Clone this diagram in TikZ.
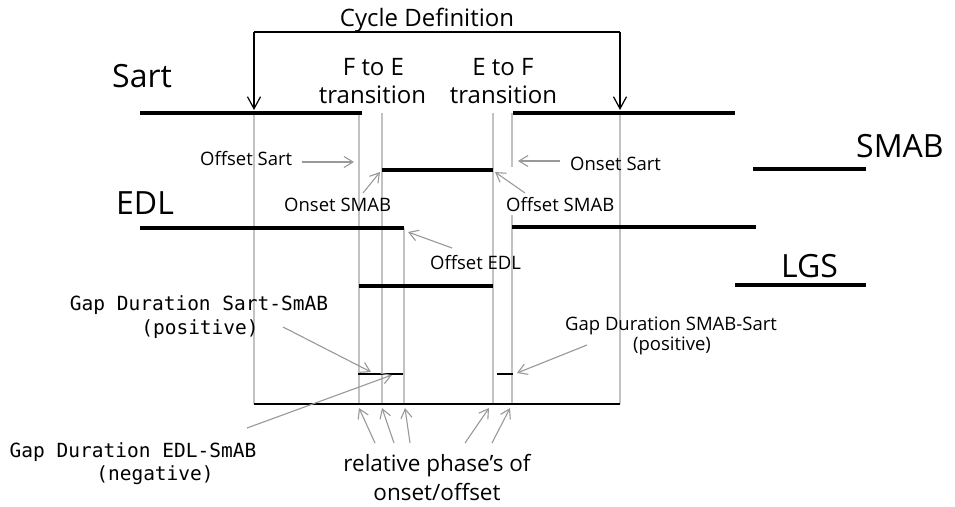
\documentclass[tikz,border=0pt]{standalone}
\usepackage{fontspec}
\setmainfont{Open Sans}
\newfontfamily\monof{DejaVu Sans Mono}
\usetikzlibrary{arrows.meta}
\definecolor{vline}{gray}{0.76}
\definecolor{garr}{gray}{0.6}
\tikzset{
  bar/.style={draw=black, line width=4pt},
  thinbar/.style={draw=black, line width=1.8pt},
  vl/.style={draw=vline, line width=1.1pt},
  ga/.style={draw=garr, line width=1.1pt, -{Straight Barb[length=9pt,width=11pt]}},
  ba/.style={draw=black, line width=1.2pt},
  bigl/.style={font=\fontsize{32}{38}\selectfont, inner sep=0pt, anchor=base west},
  midl/.style={font=\fontsize{24}{29}\selectfont, inner sep=0pt, anchor=base},
  smalll/.style={font=\fontsize{18.5}{22}\selectfont, inner sep=0pt, anchor=base west},
  smallc/.style={font=\fontsize{18.5}{22}\selectfont, inner sep=0pt, anchor=base},
  phasel/.style={font=\fontsize{22.5}{27}\selectfont, inner sep=0pt, anchor=base},
  monol/.style={font=\monof\fontsize{19.5}{24}\selectfont, inner sep=0pt, anchor=base},
}
\begin{document}
\begin{tikzpicture}[x=1pt,y=-1pt]
\useasboundingbox[fill=white] (0,0) rectangle (955,506);

% ---- coordinates
\coordinate (s1a) at (140,113); \coordinate (s1b) at (362,113);
\coordinate (s2a) at (513,113); \coordinate (s2b) at (735,113);
\coordinate (m1a) at (382,170); \coordinate (m1b) at (493,170);
\coordinate (m2a) at (753,169); \coordinate (m2b) at (866,169);
\coordinate (e1a) at (140,228); \coordinate (e1b) at (404,228);
\coordinate (e2a) at (512,227); \coordinate (e2b) at (756,227);
\coordinate (l1a) at (359,286); \coordinate (l1b) at (493,286);
\coordinate (l2a) at (735,285); \coordinate (l2b) at (866,285);

% vertical gray lines
\foreach \x/\t in {254/113, 359/113, 382/113, 404/228, 493/113, 620/113}
  \draw[vl] (\x,\t) -- (\x,404);
\draw[vl] (512,113) -- (512,167);
\draw[vl] (512,215) -- (512,404);

% bars
\draw[bar] (s1a) -- (s1b);
\draw[bar] (s2a) -- (s2b);
\draw[bar] (m1a) -- (m1b);
\draw[bar] (m2a) -- (m2b);
\draw[bar] (e1a) -- (e1b);
\draw[bar] (e2a) -- (e2b);
\draw[bar] (l1a) -- (l1b);
\draw[bar] (l2a) -- (l2b);

% bottom line and gap bars
\coordinate (bl) at (254,404); \coordinate (br) at (620,404);
\draw[draw=black, line width=1.6pt] (bl) -- (br);
\coordinate (g1a) at (358,374); \coordinate (g1b) at (403,374);
\coordinate (g2a) at (497,374); \coordinate (g2b) at (513,374);
\draw[thinbar] (g1a) -- (g1b);
\draw[thinbar] (g2a) -- (g2b);

% cycle bracket
\node[midl] (cycle) at (427,27) {Cycle Definition};
\coordinate (cbl) at (254,32); \coordinate (cbr) at (620,32);
\coordinate (cal) at (254,110); \coordinate (car) at (620,110);
\draw[ba] (cbl) -- (cbr);
\draw[ba, -{Straight Barb[length=12pt,width=13pt]}] (cbl) -- (cal);
\draw[ba, -{Straight Barb[length=12pt,width=13pt]}] (cbr) -- (car);

% big labels
\node[bigl] (sart) at (112,87) {Sart};
\node[bigl] (edl) at (116,214) {EDL};
\node[bigl] (smab) at (856,157) {SMAB};
\node[bigl] (lgs) at (781,277) {LGS};

% transitions
\node[midl] (fte1) at (373.5,75) {F to E};
\node[midl] (fte2) at (372.5,103) {transition};
\node[midl] (etf1) at (503,75) {E to F};
\node[midl] (etf2) at (503.5,103) {transition};

% small labels
\node[smalll] (offsart) at (200,165) {Offset Sart};
\node[smalll] (onsart) at (570,170) {Onset Sart};
\node[smalll] (onsmab) at (284,211) {Onset SMAB};
\node[smalll] (offsmab) at (506,211) {Offset SMAB};
\node[smalll] (offedl) at (430,269) {Offset EDL};

\node[monol] (gss1) at (199,310) {Gap Duration Sart-SmAB};
\node[monol] (gss2) at (200,334) {(positive)};
\node[monol] (ges1) at (133,457) {Gap Duration EDL-SmAB};
\node[monol] (ges2) at (155,480) {(negative)};
\node[smallc] (gms1) at (671,330) {Gap Duration SMAB-Sart};
\node[smallc] (gms2) at (672,350) {(positive)};

\node[phasel] (rel1) at (437,471) {relative phase’s of};
\node[phasel] (rel2) at (437,500) {onset/offset};

% gray arrows
\coordinate (a1s) at (302,162); \coordinate (a1e) at (354,162);
\coordinate (a2s) at (560,161); \coordinate (a2e) at (518,161);
\coordinate (a3s) at (363,193); \coordinate (a3e) at (380,172);
\coordinate (a4s) at (525,193); \coordinate (a4e) at (495,172);
\coordinate (a5s) at (452,248); \coordinate (a5e) at (408,232);
\coordinate (a6s) at (283,327); \coordinate (a6e) at (371,372);
\coordinate (a7s) at (247,428); \coordinate (a7e) at (392,375);
\coordinate (a8s) at (587,345); \coordinate (a8e) at (517,373);
\draw[ga] (a1s) -- (a1e);
\draw[ga] (a2s) -- (a2e);
\draw[ga] (a3s) -- (a3e);
\draw[ga] (a4s) -- (a4e);
\draw[ga] (a5s) -- (a5e);
\draw[ga] (a6s) -- (a6e);
\draw[ga] (a7s) -- (a7e);
\draw[ga] (a8s) -- (a8e);

\coordinate (p1s) at (375,443); \coordinate (p1e) at (359,408);
\coordinate (p2s) at (394,443); \coordinate (p2e) at (382,408);
\coordinate (p3s) at (410,443); \coordinate (p3e) at (405,408);
\coordinate (p4s) at (465,443); \coordinate (p4e) at (489,408);
\coordinate (p5s) at (492,443); \coordinate (p5e) at (510,408);
\foreach \i in {1,...,5} \draw[ga] (p\i s) -- (p\i e);
\end{tikzpicture}
\end{document}
